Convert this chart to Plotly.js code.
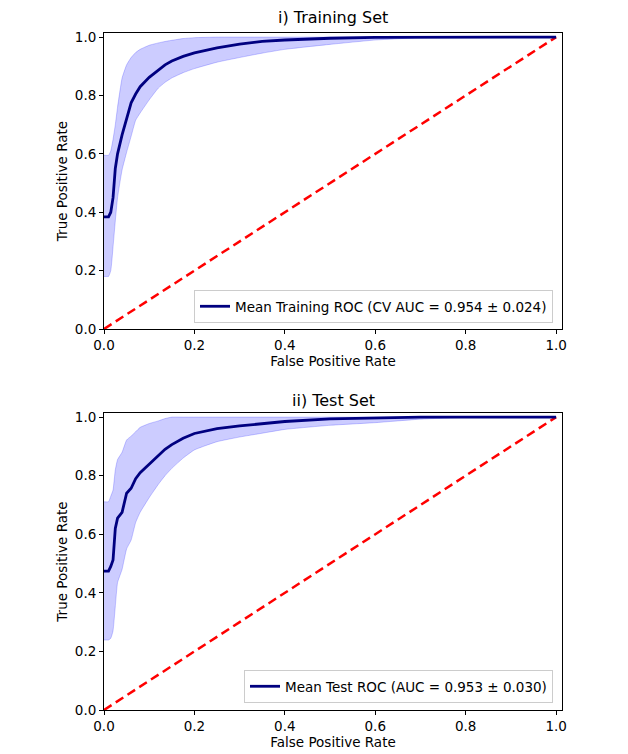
<!DOCTYPE html>
<html><head><meta charset="utf-8">
<script src="https://cdn.plot.ly/plotly-3.0.1.min.js"></script>
<style>html,body{margin:0;padding:0;background:#fff;} #chart{width:628px;height:754px;}</style>
</head><body><div id="chart"></div>
<script>
// ---- data ----
const trainFpr   = [0, 0.01, 0.015, 0.02, 0.025, 0.03, 0.04, 0.05, 0.06, 0.07, 0.08, 0.10, 0.12, 0.135, 0.15, 0.175, 0.20, 0.25, 0.30, 0.35, 0.40, 0.50, 0.60, 0.70, 0.80, 0.90, 1.0];
const trainMean  = [0.384, 0.384, 0.40, 0.45, 0.55, 0.60, 0.665, 0.72, 0.775, 0.805, 0.83, 0.862, 0.888, 0.905, 0.918, 0.934, 0.946, 0.963, 0.976, 0.985, 0.99, 0.996, 0.999, 1.0, 1.0, 1.0, 1.0];
const trainUpper = [0.595, 0.595, 0.61, 0.65, 0.70, 0.76, 0.86, 0.905, 0.93, 0.947, 0.958, 0.972, 0.98, 0.985, 0.989, 0.995, 0.998, 1.0, 1.0, 1.0, 1.0, 1.0, 1.0, 1.0, 1.0, 1.0, 1.0];
const trainLower = [0.18, 0.18, 0.20, 0.28, 0.37, 0.45, 0.545, 0.605, 0.66, 0.715, 0.74, 0.785, 0.825, 0.845, 0.86, 0.878, 0.892, 0.914, 0.93, 0.945, 0.958, 0.975, 0.99, 0.998, 1.0, 1.0, 1.0];

const testFpr   = [0, 0.01, 0.015, 0.02, 0.025, 0.03, 0.04, 0.05, 0.06, 0.07, 0.08, 0.10, 0.12, 0.135, 0.15, 0.175, 0.20, 0.25, 0.30, 0.35, 0.40, 0.50, 0.60, 0.70, 0.80, 0.90, 1.0];
const testMean  = [0.474, 0.474, 0.49, 0.512, 0.62, 0.655, 0.675, 0.74, 0.757, 0.79, 0.81, 0.84, 0.87, 0.89, 0.906, 0.928, 0.944, 0.961, 0.97, 0.977, 0.985, 0.994, 0.998, 1.0, 1.0, 1.0, 1.0];
const testUpper = [0.711, 0.711, 0.73, 0.751, 0.82, 0.855, 0.88, 0.922, 0.935, 0.95, 0.965, 0.978, 0.987, 0.995, 1.0, 1.0, 1.0, 1.0, 1.0, 1.0, 1.0, 1.0, 1.0, 1.0, 1.0, 1.0, 1.0];
const testLower = [0.239, 0.239, 0.245, 0.27, 0.353, 0.435, 0.48, 0.55, 0.58, 0.64, 0.675, 0.725, 0.77, 0.80, 0.825, 0.86, 0.888, 0.916, 0.932, 0.945, 0.958, 0.972, 0.981, 0.993, 0.999, 1.0, 1.0];

const chanceLine = [0, 1];
const tickVals = [0, 0.2, 0.4, 0.6, 0.8, 1.0];
const tickText = ['0.0', '0.2', '0.4', '0.6', '0.8', '1.0'];
const panelTitles = ['i) Training Set', 'ii) Test Set'];
const legendNames = ['Mean Training ROC (CV AUC = 0.954 \u00b1 0.024)', 'Mean Test ROC (AUC = 0.953 \u00b1 0.030)'];
const xTitle = 'False Positive Rate';
const yTitle = 'True Positive Rate';

// ---- traces ----
const FONT = 'DejaVu Sans, sans-serif';
const bandColor = 'rgba(0,0,255,0.2)';
function panel(fpr, mean, upper, lower, xa, ya, legendId, name) {
  return [
    {x: fpr, y: lower, xaxis: xa, yaxis: ya, mode: 'lines', line: {color: bandColor, width: 1, shape: 'spline', smoothing: 0.4}, showlegend: false, hoverinfo: 'skip'},
    {x: fpr, y: upper, xaxis: xa, yaxis: ya, mode: 'lines', fill: 'tonexty', fillcolor: bandColor, line: {color: bandColor, width: 1, shape: 'spline', smoothing: 0.4}, showlegend: false, hoverinfo: 'skip'},
    {x: chanceLine, y: chanceLine, xaxis: xa, yaxis: ya, mode: 'lines', line: {color: 'red', width: 2.5, dash: '9px,5px'}, showlegend: false},
    {x: fpr, y: mean, xaxis: xa, yaxis: ya, mode: 'lines', line: {color: 'navy', width: 2.8}, name: name, legend: legendId, showlegend: true}
  ];
}
const data = [].concat(
  panel(trainFpr, trainMean, trainUpper, trainLower, 'x', 'y', 'legend', legendNames[0]),
  panel(testFpr, testMean, testUpper, testLower, 'x2', 'y2', 'legend2', legendNames[1])
);

const W = 628, H = 754;
const xDom = [104 / W, 562 / W];
const topDom = [1 - 329 / H, 1 - 33 / H];
const botDom = [1 - 710 / H, 1 - 413 / H];

function xax(anchor) {
  return {domain: xDom, anchor: anchor, range: [0, 1.013], tickvals: tickVals, ticktext: tickText,
    ticks: 'outside', ticklen: 4, tickwidth: 1, tickcolor: '#000', showline: true, linecolor: '#000', linewidth: 1,
    mirror: true, showgrid: false, zeroline: false, automargin: false,
    tickfont: {family: FONT, size: 13.5, color: '#000'},
    title: {text: xTitle, font: {family: FONT, size: 13.5, color: '#000'}, standoff: 4}};
}
function yax(anchor, dom) {
  return {domain: dom, anchor: anchor, range: [0, 1.014], tickvals: tickVals, ticktext: tickText,
    ticks: 'outside', ticklen: 4, tickwidth: 1, tickcolor: '#000', showline: true, linecolor: '#000', linewidth: 1,
    mirror: true, showgrid: false, zeroline: false, automargin: false,
    tickfont: {family: FONT, size: 13.5, color: '#000'},
    title: {text: yTitle, font: {family: FONT, size: 13.5, color: '#000'}, standoff: 4}};
}
function legendBox(yBottom) {
  return {x: 553 / W, xanchor: 'right', y: yBottom, yanchor: 'bottom', bgcolor: 'rgba(255,255,255,0.8)',
    bordercolor: '#cccccc', borderwidth: 1, font: {family: FONT, size: 13.5, color: '#000'}};
}

const layout = {
  width: W, height: H, margin: {l: 0, r: 0, t: 0, b: 0},
  paper_bgcolor: '#fff', plot_bgcolor: '#fff', font: {family: FONT, color: '#000'},
  xaxis: xax('y'), yaxis: yax('x', topDom),
  xaxis2: xax('y2'), yaxis2: yax('x2', botDom),
  legend: legendBox(1 - 323 / H),
  legend2: legendBox(1 - 703 / H),
  annotations: [
    {text: panelTitles[0], xref: 'paper', yref: 'paper', x: (xDom[0] + xDom[1]) / 2, y: 1 - 18 / H, xanchor: 'center', yanchor: 'middle', showarrow: false, font: {family: FONT, size: 16, color: '#000'}},
    {text: panelTitles[1], xref: 'paper', yref: 'paper', x: (xDom[0] + xDom[1]) / 2, y: 1 - 400 / H, xanchor: 'center', yanchor: 'middle', showarrow: false, font: {family: FONT, size: 16, color: '#000'}}
  ]
};

Plotly.newPlot('chart', data, layout, {displayModeBar: false, staticPlot: true});
</script>
</body></html>
